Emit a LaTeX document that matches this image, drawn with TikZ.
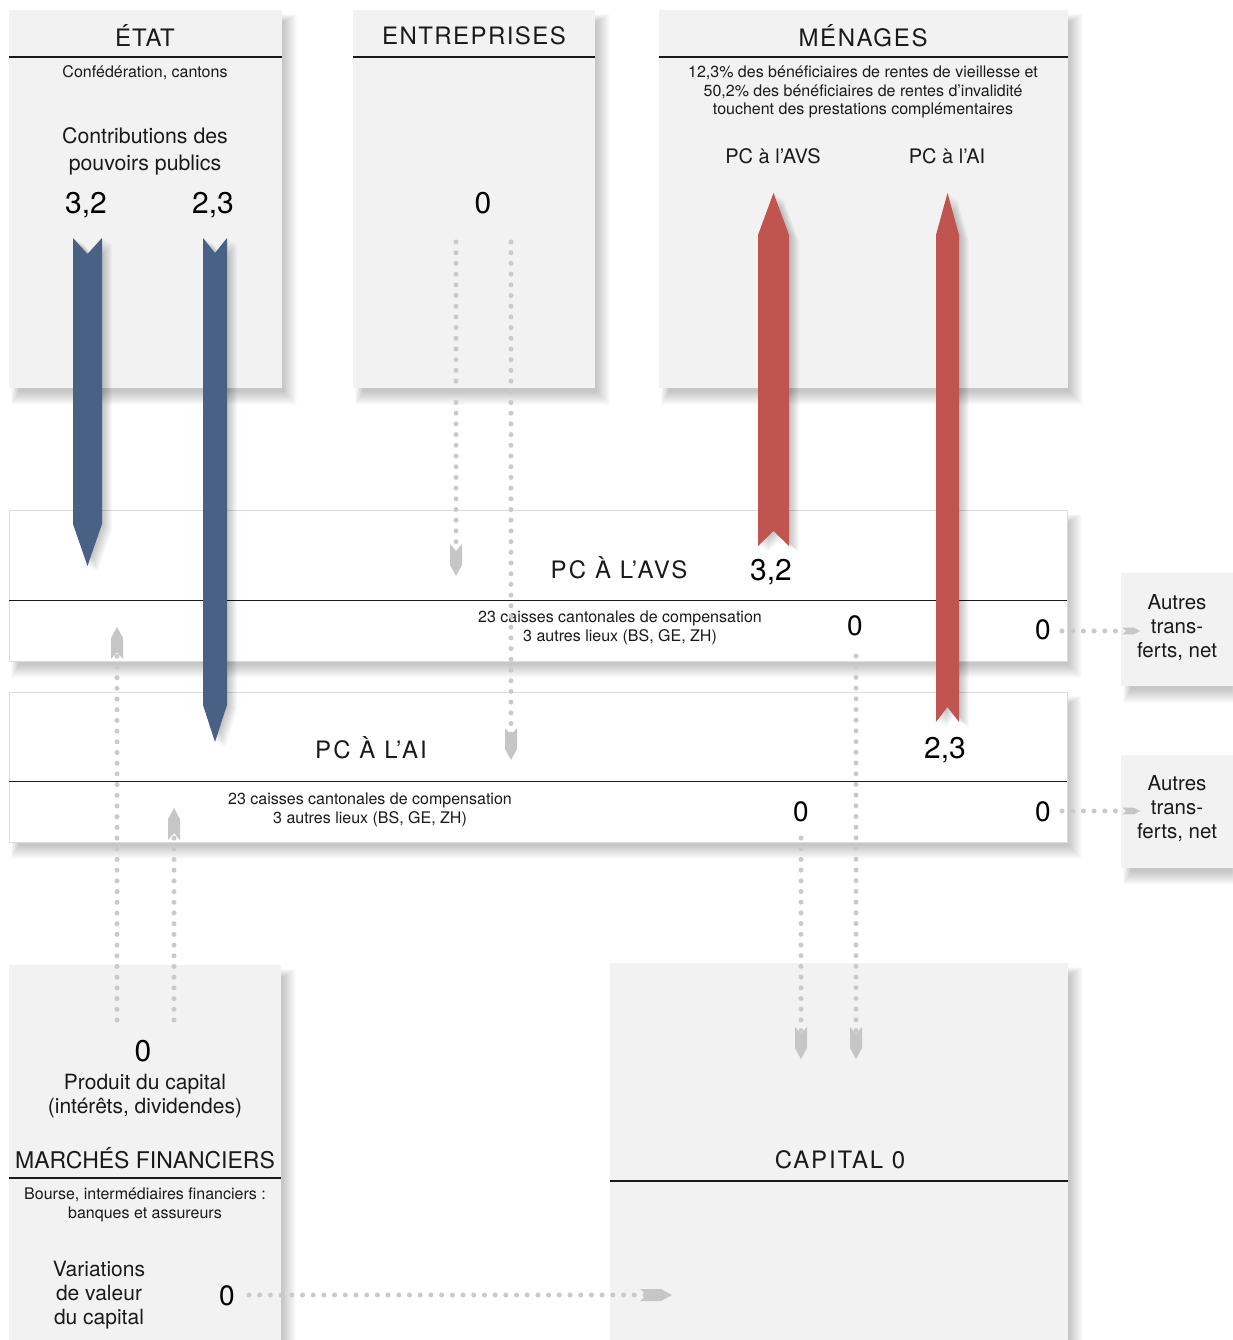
\documentclass[tikz,border=0pt]{standalone}
\usepackage{fontspec}
\setmainfont{TeX Gyre Heros}
\definecolor{boxgrey}{HTML}{F2F2F2}
\definecolor{flowblue}{HTML}{4A6186}
\definecolor{flowred}{HTML}{C0554F}
\definecolor{dotgrey}{HTML}{CACACA}
\definecolor{headgrey}{HTML}{C6C6C6}
\definecolor{edgegrey}{HTML}{DCDCDC}
\definecolor{ink}{HTML}{1A1A1A}
\newcommand\shadowrect[4]{%
  \foreach \i in {0,...,13}{\fill[black, opacity=0.017] (#1+2+0.6*\i, #2+4+0.6*\i) rectangle (#3+15-\i, #4+17-\i);}}
\newcommand\flowshape[2]{%
  \foreach \s in {1,...,10}{\fill[black, opacity=0.025, shift={(\s,0.6*\s)}] #2;}%
  \fill[#1] #2;}
\tikzset{
  x=1pt, y=-1pt,
  greybox/.style={rectangle, fill=boxgrey, draw=none, anchor=north west, inner sep=0pt},
  whitebox/.style={rectangle, fill=white, draw=edgegrey, line width=1pt, anchor=north west, inner sep=0pt},
  rule/.style={draw=ink, line width=1.5pt},
  title/.style={inner sep=0pt, text=ink, font=\fontsize{24}{28}\selectfont},
  small/.style={inner sep=0pt, text=ink, align=center, font=\fontsize{16}{18.5}\selectfont},
  mid/.style={inner sep=0pt, text=ink, align=center, font=\fontsize{21}{24}\selectfont},
  big/.style={inner sep=0pt, text=black, font=\fontsize{30}{34}\selectfont},
  zero/.style={inner sep=0pt, text=black, font=\fontsize{28}{32}\selectfont},
  dots/.style={draw=dotgrey, line width=5pt, line cap=round, dash pattern=on 0pt off 10.7pt},
  ghead/.pic={\fill[headgrey] (0,0) -- (-11,-6) -- (-32,-6) -- (-25,0) -- (-32,6) -- (-11,6) -- cycle;}
}
\begin{document}
\begin{tikzpicture}
\useasboundingbox[fill=white] (0,0) rectangle (1232,1340);

% ---- shadows of the boxes
\shadowrect{9}{10}{282}{388}
\shadowrect{353}{10}{595}{388}
\shadowrect{659}{10}{1068}{388}
\shadowrect{9}{965}{281}{1350}
\shadowrect{610}{963}{1068}{1350}
\shadowrect{1121}{573}{1240}{686}
\shadowrect{1121}{755}{1240}{868}
\shadowrect{9}{510}{1067}{661}
\shadowrect{9}{692}{1067}{842}

% ---- boxes
\node[greybox, minimum width=273pt, minimum height=378pt] (etat) at (9,10) {};
\node[greybox, minimum width=242pt, minimum height=378pt] (entr) at (353,10) {};
\node[greybox, minimum width=409pt, minimum height=378pt] (men) at (659,10) {};
\node[greybox, minimum width=272pt, minimum height=385pt] (mf) at (9,965) {};
\node[greybox, minimum width=458pt, minimum height=387pt] (cap) at (610,963) {};
\node[greybox, minimum width=115pt, minimum height=113pt] (aut1) at (1121,573) {};
\node[greybox, minimum width=115pt, minimum height=113pt] (aut2) at (1121,755) {};
\node[whitebox, minimum width=1058pt, minimum height=151pt] (avs) at (9,510) {};
\node[whitebox, minimum width=1058pt, minimum height=150pt] (ai) at (9,692) {};

% header rules
\draw[rule] (9,57) -- (282,57);
\draw[rule] (353,57) -- (595,57);
\draw[rule] (659,57) -- (1068,57);
\draw[rule] (9,600.5) -- (1067,600.5);
\draw[rule] (9,781.5) -- (1067,781.5);
\draw[rule] (9,1178) -- (281,1178);
\draw[rule] (610,1181) -- (1068,1181);

% ---- texts
\node[title] (tEtat) at (145,36) {\addfontfeature{LetterSpace=4}ÉTAT};
\node[title] (tEntr) at (474,36) {\addfontfeature{LetterSpace=6}ENTREPRISES};
\node[title] (tMen) at (863,36) {\addfontfeature{LetterSpace=7}MÉNAGES};
\node[small] (sEtat) at (145,73) {Confédération, cantons};
\node[mid, font=\fontsize{21.3}{27}\selectfont] (contrib) at (145,151.5) {Contributions des\\pouvoirs publics};
\node[big] (v32) at (86,205) {3,2};
\node[big] (v23) at (213,205) {2,3};
\node[big] (v0e) at (483,203) {0};
\node[small] (sMen) at (863,92) {12,3\% des bénéficiaires de rentes de vieillesse et\\50,2\% des bénéficiaires de rentes d’invalidité\\touchent des prestations complémentaires};
\node[mid, font=\fontsize{20}{24}\selectfont] (pcavs) at (773,156) {PC à l’AVS};
\node[mid, font=\fontsize{20}{24}\selectfont] (pcai) at (947,156) {PC à l’AI};

\node[title] (tAvs) at (619,568) {\addfontfeature{LetterSpace=9}PC À L’AVS};
\node[big] (avs32) at (771,572) {3,2};
\node[small] (sAvs) at (620,628) {23 caisses cantonales de compensation\\3 autres lieux (BS, GE, ZH)};
\node[zero] (avs0a) at (855,626) {0};
\node[zero] (avs0b) at (1043,630) {0};

\node[title] (tAi) at (371,748) {\addfontfeature{LetterSpace=9}PC À L’AI};
\node[big] (ai23) at (945,750) {2,3};
\node[small] (sAi) at (370,810) {23 caisses cantonales de compensation\\3 autres lieux (BS, GE, ZH)};
\node[zero] (ai0a) at (801,812) {0};
\node[zero] (ai0b) at (1043,812) {0};

\node[mid, font=\fontsize{20.5}{24}\selectfont] (tAut1) at (1177,628) {Autres\\trans-\\ferts, net};
\node[mid, font=\fontsize{20.5}{24}\selectfont] (tAut2) at (1177,809) {Autres\\trans-\\ferts, net};

\node[big] (mf0) at (143,1051) {0};
\node[mid] (prod) at (145,1096) {Produit du capital\\(intérêts, dividendes)};
\node[title, font=\fontsize{23}{28}\selectfont] (tMf) at (145,1158) {MARCHÉS FINANCIERS};
\node[small] (sMf) at (145,1205) {Bourse, intermédiaires financiers :\\banques et assureurs};
\node[mid] (var) at (99,1295) {Variations\\de valeur\\du capital};
\node[zero] (mf0b) at (227,1296) {0};
\node[title] (tCap) at (840,1160) {\addfontfeature{LetterSpace=8}CAPITAL 0};

% ---- dotted connectors
\coordinate (c1s) at (456,242); \coordinate (c1e) at (456,576);
\coordinate (c2s) at (511,242); \coordinate (c2e) at (511,760);
\coordinate (c3s) at (117,1020); \coordinate (c3e) at (117,627);
\coordinate (c4s) at (174,1020); \coordinate (c4e) at (174,808);
\coordinate (c5s) at (856,656); \coordinate (c5e) at (856,1059);
\coordinate (c6s) at (801,838); \coordinate (c6e) at (801,1059);
\coordinate (c7s) at (1062,631); \coordinate (c7e) at (1140,631);
\coordinate (c8s) at (1062,811); \coordinate (c8e) at (1140,811);
\coordinate (c9s) at (249,1295); \coordinate (c9e) at (672,1295);

\draw[dots] (c1s) -- ([yshift=24pt]c1e);
\draw[dots] (c2s) -- ([yshift=24pt]c2e);
\draw[dots] (c3s) -- ([yshift=-24pt]c3e);
\draw[dots] (c4s) -- ([yshift=-24pt]c4e);
\draw[dots] (c5s) -- ([yshift=24pt]c5e);
\draw[dots] (c6s) -- ([yshift=24pt]c6e);
\draw[dots] (c7s) -- ([xshift=-14pt]c7e);
\draw[dots] (c8s) -- ([xshift=-14pt]c8e);
\draw[dots] (c9s) -- ([xshift=-26pt]c9e);

\pic[rotate=-90] at (c1e) {ghead};
\pic[rotate=-90] at (c2e) {ghead};
\pic[rotate=90] at (c3e) {ghead};
\pic[rotate=90] at (c4e) {ghead};
\pic[rotate=-90] at (c5e) {ghead};
\pic[rotate=-90] at (c6e) {ghead};
\pic[scale=0.55] at (c7e) {ghead};
\pic[scale=0.55] at (c8e) {ghead};
\pic at (c9e) {ghead};

% ---- big flows
\flowshape{flowblue}{(73,238) -- (87.5,254) -- (102,238) -- (102,524) -- (87.5,566) -- (73,524) -- cycle}
\flowshape{flowblue}{(203,238) -- (215,253) -- (227,238) -- (227,705) -- (215,742) -- (203,705) -- cycle}
\flowshape{flowred}{(773.5,193) -- (789,235) -- (789,546) -- (773.5,531) -- (758,546) -- (758,235) -- cycle}
\flowshape{flowred}{(947.5,193) -- (959,235) -- (959,722) -- (947.5,707) -- (936,722) -- (936,235) -- cycle}
\end{tikzpicture}
\end{document}
